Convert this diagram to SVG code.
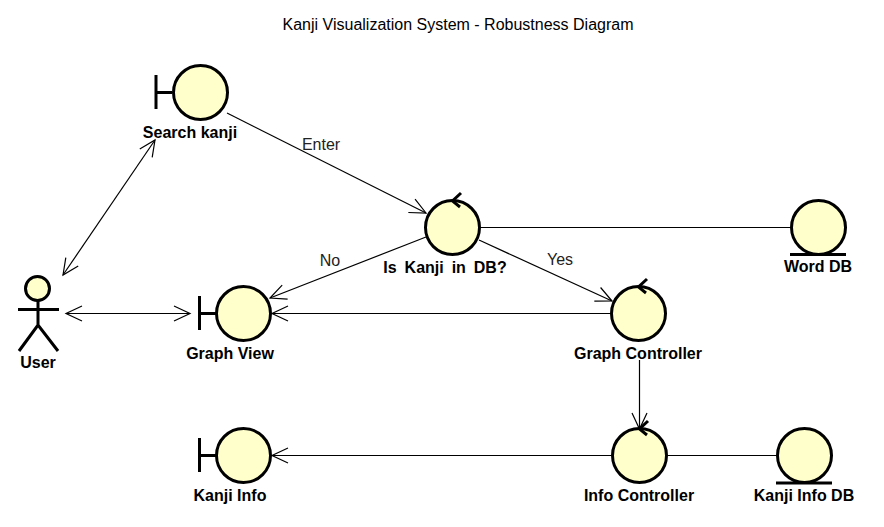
<svg xmlns="http://www.w3.org/2000/svg" width="884" height="527" viewBox="0 0 884 527">
<style>
text{font-family:"Liberation Sans",Arial,sans-serif;fill:#000}
.n{font-size:16px;font-weight:bold;text-anchor:middle}
.l{font-size:16px;text-anchor:middle;fill:#222}
.s{fill:#ffffcb;stroke:#000;stroke-width:3}
.b{fill:none;stroke:#000;stroke-width:3}
.c{fill:none;stroke:#000;stroke-width:1.2}
</style>
<defs>
<marker id="a" markerUnits="userSpaceOnUse" markerWidth="20" markerHeight="20" refX="17" refY="10" orient="auto-start-reverse" overflow="visible"><path d="M1 2.500L17 10L1 17.500" fill="none" stroke="#000" stroke-width="1.2"/></marker>
</defs>
<rect width="884" height="527" fill="#fff"/>
<text x="458" y="30" font-size="16" text-anchor="middle" fill="#222">Kanji Visualization System - Robustness Diagram</text>
<g id="connectors">
<path class="c" d="M63 275L155 140" marker-start="url(#a)" marker-end="url(#a)"/>
<path class="c" d="M66 313.500H190" marker-start="url(#a)" marker-end="url(#a)"/>
<path class="c" d="M227 113L426 213" marker-end="url(#a)"/>
<path class="c" d="M426 237L270 298" marker-end="url(#a)"/>
<path class="c" d="M479 240L612 301" marker-end="url(#a)"/>
<path class="c" d="M480 227.500H790"/>
<path class="c" d="M611 313.500H272" marker-end="url(#a)"/>
<path class="c" d="M639.500 360V429" marker-end="url(#a)"/>
<path class="c" d="M611 455.500H272" marker-end="url(#a)"/>
<path class="c" d="M667 455.500H776"/>
<text class="l" x="321" y="150">Enter</text>
<text class="l" x="330" y="266">No</text>
<text class="l" x="560" y="265">Yes</text>
</g>
<g id="search-kanji"><path class="b" d="M156 75V109M156 92.500H172"/><circle class="s" cx="200.500" cy="92.500" r="27"/><text class="n" x="190" y="138">Search kanji</text></g>
<g id="user"><circle class="s" cx="37.500" cy="288.500" r="12"/><path class="b" d="M18 309.500H59M38 300V325M19 351L38 325L58 351"/><text class="n" x="38" y="368">User</text></g>
<g id="graph-view"><path class="b" d="M199.500 296V330M199 313.500H216"/><circle class="s" cx="243.500" cy="313.500" r="27"/><text class="n" x="230" y="359">Graph View</text></g>
<g id="is-kanji"><circle class="s" cx="452.500" cy="227.500" r="27"/><path class="b" d="M461 193L452.500 201L460 207"/><text class="n" x="445" y="273" word-spacing="3.500">Is Kanji in DB?</text></g>
<g id="graph-controller"><circle class="s" cx="638.500" cy="313.500" r="27"/><path class="b" d="M647 279L638.500 287L646 293"/><text class="n" x="638" y="359">Graph Controller</text></g>
<g id="word-db"><circle class="s" cx="818.500" cy="227.500" r="27"/><path class="b" d="M790 254.500H846"/><text class="n" x="818" y="272">Word DB</text></g>
<g id="kanji-info"><path class="b" d="M199.500 438V472M199 455.500H216"/><circle class="s" cx="243.500" cy="455.500" r="27"/><text class="n" x="230" y="501">Kanji Info</text></g>
<g id="info-controller"><circle class="s" cx="639.500" cy="455.500" r="27"/><path class="b" d="M648 421L639.500 429L647 435"/><text class="n" x="639" y="501">Info Controller</text></g>
<g id="kanji-info-db"><circle class="s" cx="804.500" cy="455.500" r="27"/><path class="b" d="M776 483H832"/><text class="n" x="804" y="501">Kanji Info DB</text></g>
</svg>
